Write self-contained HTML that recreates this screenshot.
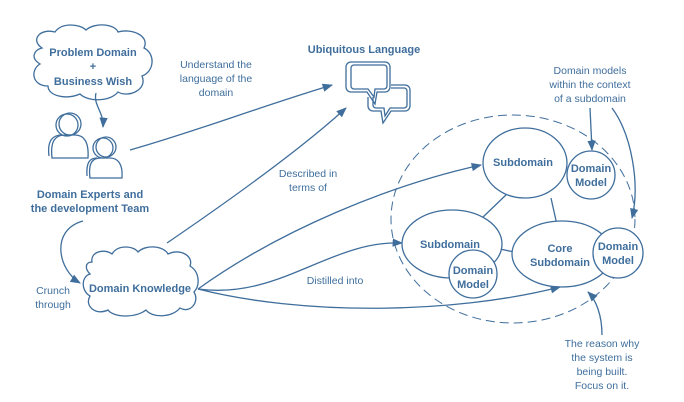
<!DOCTYPE html>
<html><head><meta charset="utf-8"><style>
html,body{margin:0;padding:0;background:#fff}
svg{display:block}
text{font-family:"Liberation Sans",sans-serif;fill:#3f6e9c}
.b{font-weight:bold;font-size:11px}
.n{font-size:10.5px}
</style></head><body>
<svg width="684" height="402" viewBox="0 0 684 402" xmlns="http://www.w3.org/2000/svg">
<defs>
<marker id="a" viewBox="0 0 10 10" refX="9" refY="5" markerWidth="8" markerHeight="8" orient="auto"><path d="M0,1 L10,5 L0,9 z" fill="#3f6e9c"/></marker>
</defs>
<g fill="none" stroke="#3f6e9c" stroke-width="1.3">
<!-- Problem cloud -->
<path d="M42,48 C30,40 40,28 55,32 C62,22 80,24 86,30 C95,22 115,24 118,32 C132,28 150,36 144,48 C156,54 154,72 142,76 C148,90 128,98 118,92 C110,102 88,102 80,94 C66,100 48,96 48,86 C32,86 30,70 40,64 C30,58 34,50 42,48 z"/>
<path d="M96,93 C93,105 104,112 103,127" marker-end="url(#a)"/>
<!-- people -->
<circle cx="70" cy="124" r="11"/><circle cx="67" cy="125" r="11"/>
<path d="M52,158 C50,140 56,135 65,135 L75,135 C84,135 89,142 88,158 z"/>
<path d="M49,156 C47,140 53,135 62,135"/>
<circle cx="106" cy="147" r="10"/><circle cx="103" cy="148" r="10"/>
<path d="M90,178 C88,162 93,158 101,158 L110,158 C118,158 123,164 122,178 z"/>
<path d="M87,176 C86,162 90,158 97,158"/>
<!-- arrows -->
<path d="M130,150 C200,130 250,110 332,85" marker-end="url(#a)"/>
<path d="M83,221 C50,230 58,270 80,283" marker-end="url(#a)"/>
<path d="M167,243 C230,200 300,150 346,108" marker-end="url(#a)"/>
<path d="M198,289 C280,230 390,185 481,165" marker-end="url(#a)"/>
<path d="M198,289 C280,300 330,240 402,243" marker-end="url(#a)"/>
<path d="M198,289 C300,315 450,315 560,287" marker-end="url(#a)"/>
<!-- DK cloud -->
<path d="M92,262 C90,252 104,248 112,254 C118,244 134,246 138,252 C146,244 164,246 168,254 C180,248 194,256 190,266 C200,272 200,286 194,292 C200,302 190,314 180,308 C172,318 152,318 146,310 C136,318 114,318 108,310 C96,316 84,306 90,296 C80,290 82,276 90,274 C84,268 86,262 92,262 z"/>
<!-- bubbles -->
<path d="M351,62 h34 a5,5 0 0 1 5,5 v20 a5,5 0 0 1 -5,5 h-8 l-2,12 l-8,-12 h-16 a5,5 0 0 1 -5,-5 v-20 a5,5 0 0 1 5,-5 z"/>
<path d="M354,65 h30 a3,3 0 0 1 3,3 v18 a3,3 0 0 1 -3,3 h-9 l-1,8 l-6,-8 h-14 a3,3 0 0 1 -3,-3 v-18 a3,3 0 0 1 3,-3 z"/>
<path d="M391,85 h14 a5,5 0 0 1 5,5 v16 a5,5 0 0 1 -5,5 h-14 l-8,12 l-2,-12 h-8 a5,5 0 0 1 -5,-5 v-9"/>
<path d="M391,88 h13 a3,3 0 0 1 3,3 v14 a3,3 0 0 1 -3,3 h-14 l-5,8 l-1,-8 h-8 a3,3 0 0 1 -3,-3 v-8"/>
<!-- dashed ellipse -->
<ellipse cx="513" cy="219" rx="122" ry="104" stroke-dasharray="9,5" stroke-width="1"/>
<!-- links -->
<path d="M508,193 L482,218 M551,198 L557,225 M500,249 L514,252"/>
<ellipse cx="525" cy="163" rx="42" ry="35" fill="#fff"/>
<circle cx="591" cy="175" r="24" fill="#fff"/>
<ellipse cx="452" cy="244" rx="50" ry="34" fill="#fff"/>
<circle cx="473" cy="274" r="24" fill="#fff"/>
<ellipse cx="562" cy="254" rx="50" ry="33" fill="#fff"/>
<circle cx="618" cy="253" r="25" fill="#fff"/>
<path d="M590,108 L592,150" marker-end="url(#a)"/>
<path d="M612,108 C632,135 640,185 632,218" marker-end="url(#a)"/>
<path d="M602,335 C602,315 596,300 588,292" marker-end="url(#a)"/>
</g>
<g text-anchor="middle">
<text class="b" x="93" y="56">Problem Domain</text>
<text class="b" x="93" y="70">+</text>
<text class="b" x="93" y="85">Business Wish</text>
<text class="b" x="90" y="198">Domain Experts and</text>
<text class="b" x="90" y="212">the development Team</text>
<text class="n" x="216" y="68">Understand the</text>
<text class="n" x="216" y="82">language of the</text>
<text class="n" x="216" y="96">domain</text>
<text class="b" x="364" y="53">Ubiquitous Language</text>
<text class="n" x="308" y="177">Described in</text>
<text class="n" x="308" y="191">terms of</text>
<text class="b" x="140" y="292">Domain Knowledge</text>
<text class="n" x="53" y="294">Crunch</text>
<text class="n" x="53" y="308">through</text>
<text class="n" x="335" y="284">Distilled into</text>
<text class="n" x="590" y="74">Domain models</text>
<text class="n" x="590" y="88">within the context</text>
<text class="n" x="590" y="102">of a subdomain</text>
<text class="b" x="523" y="166">Subdomain</text>
<text class="b" x="591" y="172">Domain</text>
<text class="b" x="591" y="186">Model</text>
<text class="b" x="450" y="248">Subdomain</text>
<text class="b" x="473" y="274">Domain</text>
<text class="b" x="473" y="288">Model</text>
<text class="b" x="560" y="252">Core</text>
<text class="b" x="560" y="266">Subdomain</text>
<text class="b" x="618" y="250">Domain</text>
<text class="b" x="618" y="264">Model</text>
<text class="n" x="602" y="347">The reason why</text>
<text class="n" x="602" y="361">the system is</text>
<text class="n" x="602" y="375">being built.</text>
<text class="n" x="602" y="389">Focus on it.</text>
</g>
</svg>
</body></html>
